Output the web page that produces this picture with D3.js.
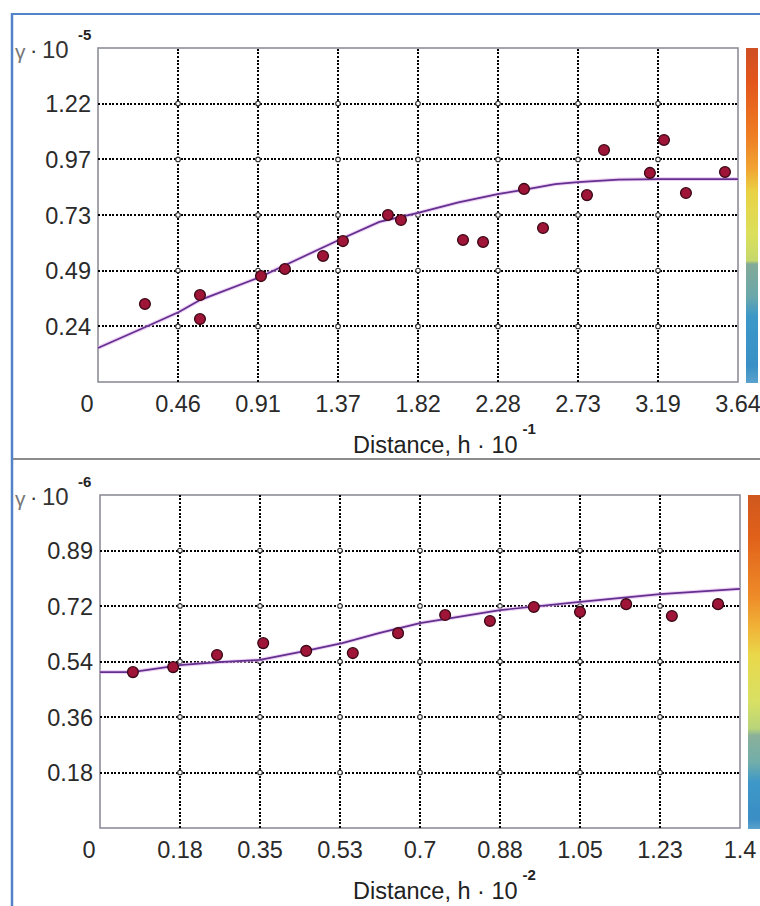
<!DOCTYPE html>
<html><head><meta charset="utf-8">
<script src="https://cdn.jsdelivr.net/npm/d3@7"></script>
<style>html,body{margin:0;padding:0;background:#fff;overflow:hidden;} svg{display:block;}</style>
</head><body>
<svg id="c" width="760" height="906"></svg>
<script>
// ---------- DATA: top panel (gamma x 1e-5 vs distance x 1e-1) ----------
const topXTicks  = [0, 0.455, 0.91, 1.365, 1.82, 2.275, 2.73, 3.185, 3.64];
const topXLabels = ["0","0.46","0.91","1.37","1.82","2.28","2.73","3.19","3.64"];
const topYTicks  = [0.243, 0.487, 0.73, 0.973, 1.217];
const topYLabels = ["0.24","0.49","0.73","0.97","1.22"];
const topDomainX = [0, 3.64];
const topDomainY = [0, 1.46];
const topPtsX = [0.267, 0.58, 0.58, 0.927, 1.063, 1.28, 1.393, 1.649, 1.723, 2.076, 2.19, 2.423, 2.531, 2.781, 2.878, 3.139, 3.219, 3.344, 3.566];
const topPtsY = [0.341, 0.380, 0.275, 0.463, 0.494, 0.551, 0.616, 0.730, 0.708, 0.621, 0.612, 0.844, 0.673, 0.817, 1.014, 0.914, 1.058, 0.826, 0.918];
const topModelX = [0, 0.27, 0.46, 0.58, 0.91, 1.37, 1.6, 1.82, 2.05, 2.28, 2.42, 2.6, 2.73, 2.96, 3.2, 3.64];
const topModelY = [0.149, 0.24, 0.306, 0.358, 0.455, 0.621, 0.70, 0.739, 0.785, 0.822, 0.84, 0.865, 0.874, 0.885, 0.887, 0.887];
const topYExp = "-5", topXExp = "-1";

// ---------- DATA: bottom panel (gamma x 1e-6 vs distance x 1e-2) ----------
const botXTicks  = [0, 0.175, 0.35, 0.525, 0.7, 0.875, 1.05, 1.225, 1.4];
const botXLabels = ["0","0.18","0.35","0.53","0.7","0.88","1.05","1.23","1.4"];
const botYTicks  = [0.178, 0.356, 0.534, 0.712, 0.89];
const botYLabels = ["0.18","0.36","0.54","0.72","0.89"];
const botDomainX = [0, 1.4];
const botDomainY = [0, 1.068];
const botPtsX = [0.072, 0.160, 0.256, 0.357, 0.451, 0.553, 0.652, 0.755, 0.853, 0.949, 1.05, 1.151, 1.251, 1.352];
const botPtsY = [0.500, 0.516, 0.555, 0.593, 0.568, 0.561, 0.625, 0.683, 0.664, 0.709, 0.693, 0.718, 0.680, 0.718];
const botModelX = [0, 0.07, 0.18, 0.26, 0.35, 0.45, 0.53, 0.61, 0.7, 0.875, 1.05, 1.225, 1.4];
const botModelY = [0.500, 0.500, 0.523, 0.532, 0.539, 0.568, 0.593, 0.625, 0.657, 0.699, 0.725, 0.750, 0.767];
const botYExp = "-6", botXExp = "-2";

// colour-bar stops
const cbarTopStops = [[0,"#cf4f24"],[0.1,"#e3561b"],[0.26,"#ee7d24"],[0.36,"#f1a432"],[0.43,"#e9d244"],[0.56,"#dbe05c"],[0.635,"#c5d86c"],[0.645,"#82aa98"],[0.74,"#6ca8aa"],[0.8,"#3d98c8"],[0.95,"#3a90c6"],[1,"#5aa2cc"]];
const cbarBotStops = [[0,"#d0581e"],[0.12,"#e0601a"],[0.3,"#ee8a28"],[0.4,"#f0b438"],[0.48,"#e9d84a"],[0.62,"#d8e064"],[0.7,"#b8d47a"],[0.72,"#8ab09a"],[0.8,"#72aeaa"],[0.86,"#3d98c8"],[0.97,"#3a8ec4"],[1,"#5aa2cc"]];

const FONT = "'Liberation Sans', Arial, sans-serif";
const svg = d3.select("#c");
svg.append("rect").attr("width",760).attr("height",906).attr("fill","#fff");

// outer frame
svg.append("line").attr("x1",12).attr("x2",760).attr("y1",14).attr("y2",14).attr("stroke","#5283c8").attr("stroke-width",2);
svg.append("line").attr("x1",12).attr("x2",12).attr("y1",13).attr("y2",906).attr("stroke","#5283c8").attr("stroke-width",2.5);
svg.append("line").attr("x1",13).attr("x2",760).attr("y1",459).attr("y2",459).attr("stroke","#8c8c8c").attr("stroke-width",2);

const defs = svg.append("defs");

function panel(o) {
  const x = d3.scaleLinear().domain(o.dx).range([o.left, o.right]);
  const y = d3.scaleLinear().domain(o.dy).range([o.bottom, o.top]);
  const g = svg.append("g");

  // frame
  g.append("rect").attr("x",o.left).attr("y",o.top).attr("width",o.right-o.left).attr("height",o.bottom-o.top)
    .attr("fill","#fff").attr("stroke","#8e8e98").attr("stroke-width",1.6);

  // grid (from axes)
  const gx = g.append("g").attr("transform",`translate(0,${o.bottom})`)
    .call(d3.axisBottom(x).tickValues(o.xt.slice(1,-1)).tickSize(-(o.bottom-o.top)).tickFormat("").offset(0));
  const gy = g.append("g").attr("transform",`translate(${o.left},0)`)
    .call(d3.axisLeft(y).tickValues(o.yt).tickSize(-(o.right-o.left)).tickFormat("").offset(0));
  [gx,gy].forEach(a=>{
    a.select(".domain").remove();
    a.selectAll(".tick line").attr("stroke","#000").attr("stroke-width",2)
      .attr("stroke-dasharray","2,1.6").attr("shape-rendering","crispEdges");
  });

  // intersection markers
  const inter = [];
  o.xt.slice(1,-1).forEach(xv=>o.yt.forEach(yv=>inter.push([xv,yv])));
  g.selectAll("circle.int").data(inter).enter().append("circle").attr("class","int")
    .attr("cx",d=>x(d[0])).attr("cy",d=>y(d[1])).attr("r",2.3)
    .attr("fill","#fff").attr("stroke","#333").attr("stroke-width",1.1);

  // model curve
  const line = d3.line().x(d=>x(d[0])).y(d=>y(d[1]));
  const md = o.mx.map((v,i)=>[v,o.my[i]]);
  g.append("path").attr("d",line(md)).attr("fill","none").attr("stroke","#e6b4ee").attr("stroke-width",4).attr("opacity",0.6);
  g.append("path").attr("d",line(md)).attr("fill","none").attr("stroke","#62308f").attr("stroke-width",1.7);

  // points
  const pd = o.px.map((v,i)=>[v,o.py[i]]);
  g.selectAll("circle.pt").data(pd).enter().append("circle").attr("class","pt")
    .attr("cx",d=>x(d[0])).attr("cy",d=>y(d[1])).attr("r",5.4)
    .attr("fill","#9e1538").attr("stroke","#3a0815").attr("stroke-width",1.3);

  // x tick labels
  g.selectAll("text.xl").data(o.xt).enter().append("text").attr("class","xl")
    .attr("x",(d,i)=> i===0 ? x(d)-11 : x(d)).attr("y",o.bottom+30)
    .attr("text-anchor","middle").attr("font-family",FONT).attr("font-size",23.5).attr("fill","#2a2a2a")
    .text((d,i)=>o.xl[i]);
  // y tick labels
  g.selectAll("text.yl").data(o.yt).enter().append("text").attr("class","yl")
    .attr("x",o.left-7).attr("y",d=>y(d)+8.5)
    .attr("text-anchor","end").attr("font-family",FONT).attr("font-size",23.5).attr("fill","#2a2a2a")
    .text((d,i)=>o.yl[i]);

  // y label
  g.append("text").attr("x",15).attr("y",o.top+11).attr("font-family",FONT).attr("font-size",21).attr("fill","#777").text("γ");
  g.append("text").attr("x",30).attr("y",o.top+10).attr("font-family",FONT).attr("font-size",22).attr("fill","#333").text("·");
  g.append("text").attr("x",42).attr("y",o.top+10).attr("font-family",FONT).attr("font-size",24).attr("fill","#333").text("10");
  g.append("text").attr("x",78).attr("y",o.top-8).attr("font-family",FONT).attr("font-size",15).attr("font-weight","bold").attr("fill","#222").text(o.yexp);

  // x title
  const t = g.append("text").attr("x",353).attr("y",o.bottom+71).attr("font-family",FONT).attr("font-size",23.5).attr("fill","#222");
  t.append("tspan").text("Distance, h · 10");
  t.append("tspan").attr("dx",5).attr("dy",-19).attr("font-size",15).attr("font-weight","bold").text(o.xexp);

  // colour bar
  const gid = "cb"+o.id;
  const lg = defs.append("linearGradient").attr("id",gid).attr("x1",0).attr("x2",0).attr("y1",0).attr("y2",1);
  o.stops.forEach(s=>lg.append("stop").attr("offset",s[0]).attr("stop-color",s[1]));
  g.append("rect").attr("x",o.cbx).attr("y",o.top).attr("width",12).attr("height",o.bottom-o.top+1).attr("fill",`url(#${gid})`);
}

panel({id:"t", left:98, right:738, top:48, bottom:382, cbx:746,
  dx:topDomainX, dy:topDomainY, xt:topXTicks, xl:topXLabels, yt:topYTicks, yl:topYLabels,
  px:topPtsX, py:topPtsY, mx:topModelX, my:topModelY, yexp:topYExp, xexp:topXExp, stops:cbarTopStops});
panel({id:"b", left:100, right:740, top:495, bottom:828, cbx:748,
  dx:botDomainX, dy:botDomainY, xt:botXTicks, xl:botXLabels, yt:botYTicks, yl:botYLabels,
  px:botPtsX, py:botPtsY, mx:botModelX, my:botModelY, yexp:botYExp, xexp:botXExp, stops:cbarBotStops});
</script>
</body></html>
